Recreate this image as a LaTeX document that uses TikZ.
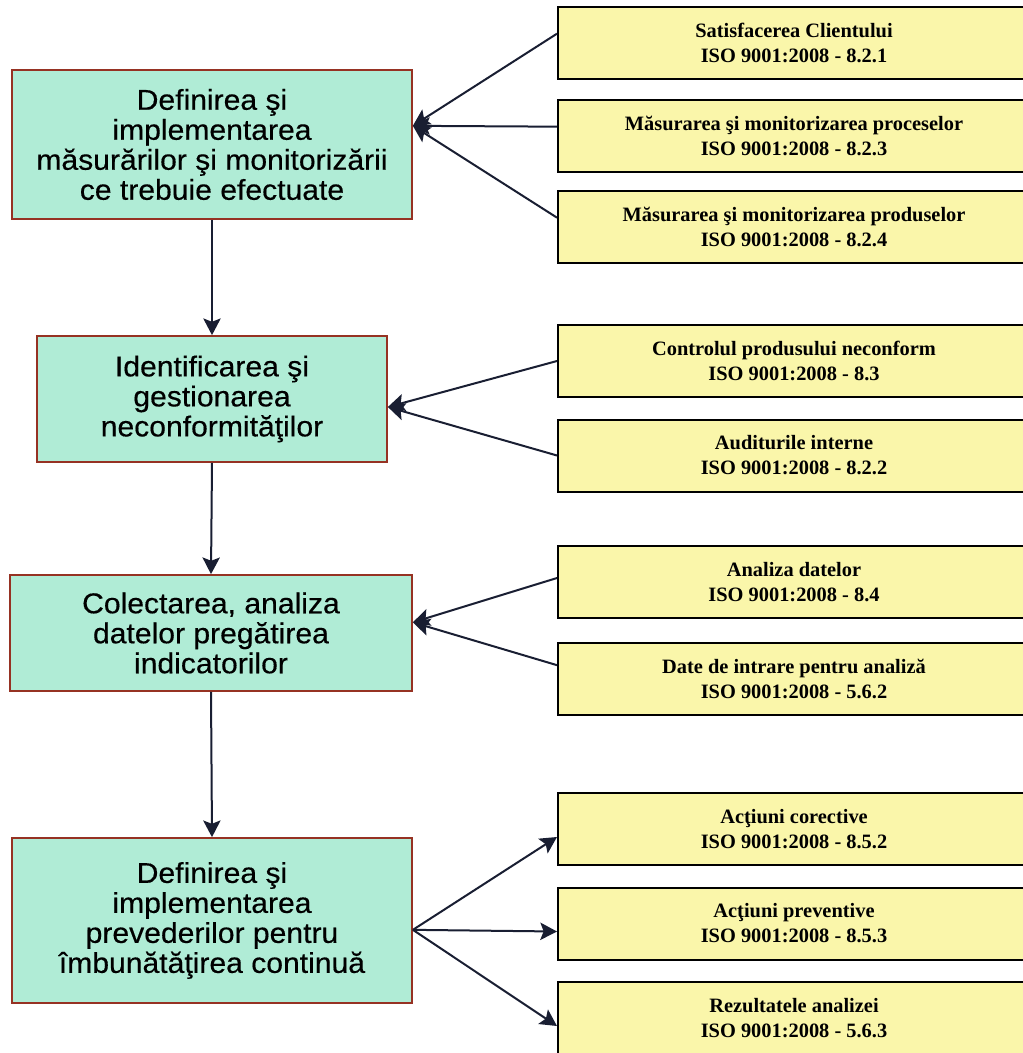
\documentclass[tikz,border=0pt]{standalone}
\usepackage{fontspec}
\setmainfont{Liberation Serif}
\newfontfamily\arialfont[FakeStretch=1.05,FakeBold=0.4]{Liberation Sans}
\usetikzlibrary{arrows.meta}

\definecolor{mintfill}{RGB}{176,236,214}
\definecolor{brickline}{RGB}{150,50,35}
\definecolor{paleyellow}{RGB}{250,246,170}
\definecolor{tipnavy}{RGB}{25,30,50}

\begin{document}
\begin{tikzpicture}[x=0.75pt,y=-0.75pt,
  stagebox/.style={draw=brickline, line width=1.3pt, fill=mintfill, align=center,
    inner sep=0pt, font=\arialfont\fontsize{21.5}{22.5}\selectfont},
  isobox/.style={draw=black, line width=1.5pt, fill=paleyellow, align=center,
    inner sep=0pt, minimum width=354pt, minimum height=54pt,
    font=\bfseries\fontsize{15.3}{18.7}\selectfont},
  link/.style={line width=1.5pt, draw=tipnavy,
    -{Stealth[length=12.5pt,width=13pt,inset=2.5pt]}}]
\useasboundingbox (0,0) rectangle (1023,1053);
% Stages (left column)
\node[stagebox, minimum width=300pt, minimum height=111.75pt] (def) at (212,144.5)
  {Definirea şi\\implementarea\\măsurărilor şi monitorizării\\ce trebuie efectuate};
\node[stagebox, minimum width=262.5pt, minimum height=94.5pt] (ident) at (212,399)
  {Identificarea şi\\gestionarea\\neconformităţilor};
\node[stagebox, minimum width=301.5pt, minimum height=87pt] (colect) at (211,633)
  {Colectarea, analiza\\datelor pregătirea\\indicatorilor};
\node[stagebox, minimum width=300pt, minimum height=123.75pt] (imbun) at (212,920.5)
  {Definirea şi\\implementarea\\prevederilor pentru\\îmbunătăţirea continuă};
% ISO clauses (right column)
\foreach \nm/\yc/\title/\clause in {
    sat/43/Satisfacerea Clientului/8.2.1,
    proc/136/Măsurarea şi monitorizarea proceselor/8.2.3,
    prod/227/Măsurarea şi monitorizarea produselor/8.2.4,
    neconf/361/Controlul produsului neconform/8.3,
    audit/455.5/Auditurile interne/8.2.2,
    anal/582/Analiza datelor/8.4,
    intrare/678.5/Date de intrare pentru analiză/5.6.2,
    corect/829/Acţiuni corective/8.5.2,
    prev/923.5/Acţiuni preventive/8.5.3,
    rezult/1018/Rezultatele analizei/5.6.3} {
  \node[isobox] (\nm) at (794,\yc) {\title\\ISO 9001:2008 - \clause};
}
% Flow down the stages
\draw[link] (def.south) -- (ident.north);
\draw[link] (ident.south) -- (colect.north);
\draw[link] (colect.south) -- (imbun.north);
% Inputs and outputs
\coordinate (hubdef) at ([yshift=14pt]def.east);
\coordinate (hubident) at ([yshift=-6pt]ident.east);
\coordinate (hubcolect) at ([yshift=8pt]colect.east);
\coordinate (hubimbun) at ([yshift=-7pt]imbun.east);
\foreach \src in {sat,proc,prod}
  \draw[link] ([yshift=7pt]\src.west) -- (hubdef);
\foreach \src in {neconf,audit}
  \draw[link] (\src.west) -- (hubident);
\draw[link] ([yshift=3pt]anal.west) -- (hubcolect);
\draw[link] ([yshift=10pt]intrare.west) -- (hubcolect);
\foreach \dst in {corect,prev,rezult}
  \draw[link] (hubimbun) -- ([yshift=-6pt]\dst.west);
\end{tikzpicture}
\end{document}
